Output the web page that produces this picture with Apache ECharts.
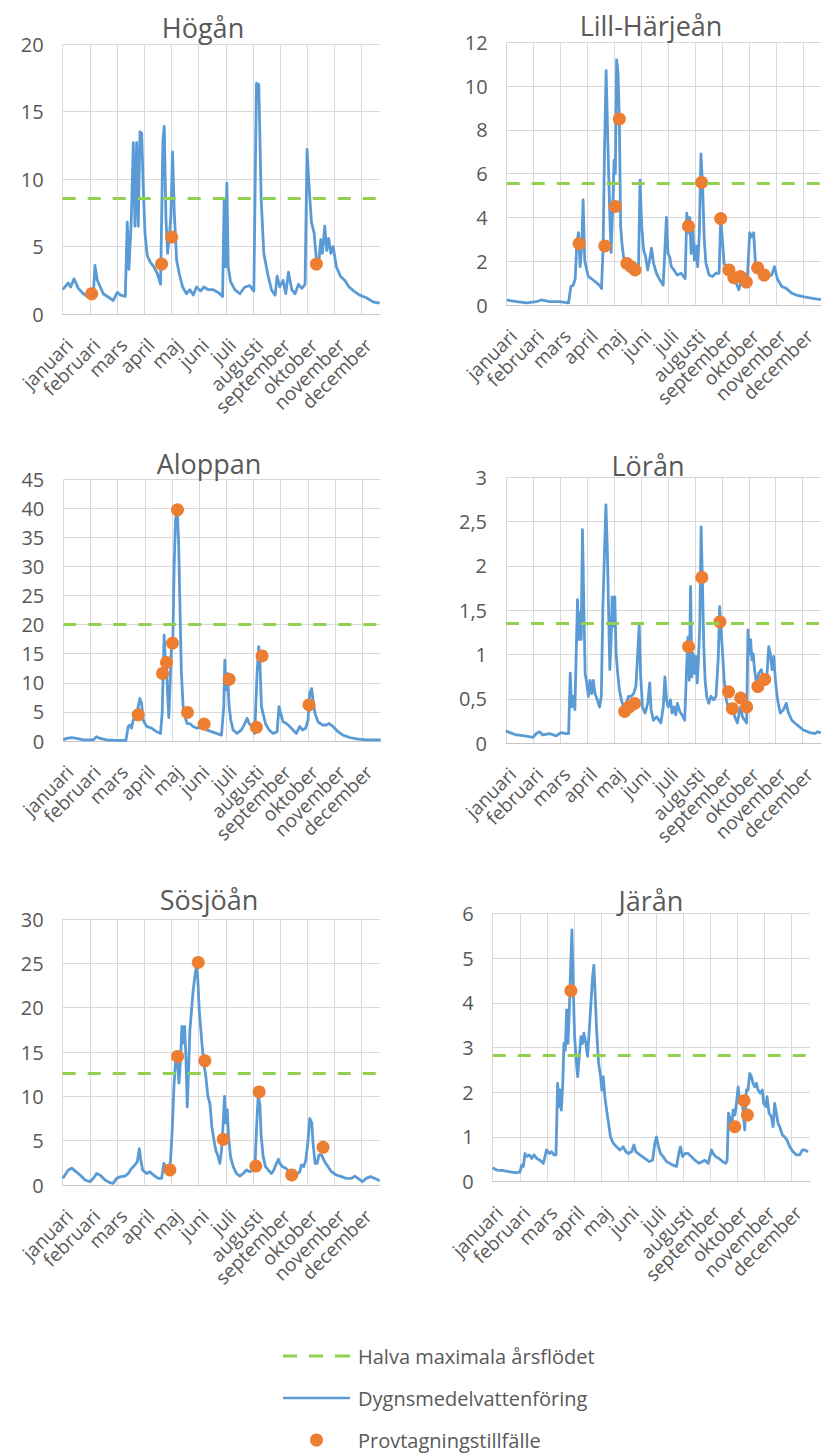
<!DOCTYPE html>
<html><head><meta charset="utf-8">
<script src="https://cdn.jsdelivr.net/npm/echarts@6.0.0/dist/echarts.min.js"></script>
<style>html,body{margin:0;padding:0;background:#fff}#c{width:821px;height:1455px}</style>
</head><body><div id="c"></div>
<script>
// ---------- DATA ----------
const months = ['januari','februari','mars','april','maj','juni','juli','augusti','september','oktober','november','december'];
const legendLabels = ['Halva maximala årsflödet','Dygnsmedelvattenföring','Provtagningstillfälle'];
const riverNames = ['Högån','Lill-Härjeån','Aloppan','Lörån','Sösjöån','Järån'];
const yMaxes = [20, 12, 45, 3, 30, 6];
const ySteps = [5, 2, 5, 0.5, 5, 1];
const halfMax = [8.55, 5.56, 20.0, 1.35, 12.6, 2.82];

// daily mean flow: [day of year, m3/s]
const hoganFlow = [[0,1.8],[6.3,2.3],[8.9,2.0],[12.7,2.6],[17.5,1.9],[23.1,1.5],[29.8,1.2],[34.3,1.5],[36.1,3.6],[38.7,2.5],[45.4,1.5],[56.6,1.0],[61.1,1.6],[64.8,1.4],[70,1.3],[72.2,6.8],[74.1,3.3],[76.7,7.0],[79,12.7],[80.8,6.5],[82.7,12.7],[84.5,6.5],[86.4,13.5],[88.3,13.4],[90.1,9.4],[92,6.0],[94.6,4.3],[98.3,3.8],[102,3.5],[105.8,3.0],[109.5,2.2],[111,8.5],[112.1,12.9],[113.6,13.9],[115.4,7.2],[117.3,4.5],[119.2,5.7],[121,7.2],[122.9,12.0],[124.8,7.5],[127.4,4.0],[130.3,3.0],[134.1,2.0],[138.5,1.5],[142.3,1.8],[146,1.4],[149.7,2.0],[154.2,1.7],[157.9,2.0],[162.7,1.8],[168.3,1.8],[173.9,1.6],[178.8,1.3],[180.6,8.5],[182.1,3.5],[183.6,9.7],[185.1,3.5],[187.7,2.4],[192.5,1.8],[198.1,1.5],[203.7,2.0],[209.3,2.1],[213.8,1.7],[216.7,17.1],[219.3,17.0],[222,8.5],[224.9,4.5],[229.8,2.8],[233.5,1.8],[237.6,1.4],[239.8,2.8],[242.8,2.0],[246.5,2.5],[249.5,1.5],[252.5,3.1],[256.2,1.8],[259.9,1.5],[263.7,2.2],[267.4,1.9],[271.1,2.2],[273.3,12.2],[275.6,9.4],[278.2,6.8],[281.2,6.0],[283.8,4.0],[286.7,4.0],[288.6,5.5],[290.5,4.5],[293.1,6.5],[295.3,4.7],[297.5,5.6],[299.8,4.5],[302.4,5.0],[306.1,3.5],[310.6,2.8],[315.4,2.5],[320.3,2.0],[325.5,1.7],[332.2,1.4],[339.6,1.2],[347.1,0.9],[354.5,0.8]];
const lillharjeanFlow = [[0,0.23],[3.7,0.2],[11.2,0.15],[22.3,0.1],[33.5,0.15],[39,0.23],[48.3,0.15],[59.5,0.15],[69.9,0.1],[72.5,0.85],[75.1,0.9],[77.4,1.2],[79.2,2.8],[81.1,3.3],[82.9,1.75],[84.8,2.7],[86.3,4.8],[88.1,2.05],[90.4,1.6],[92.2,1.3],[95.9,1.2],[100.4,1.05],[104.9,0.9],[107.1,0.75],[108.9,2.7],[110.5,7.1],[112.3,10.7],[114.2,7.5],[116.4,4.2],[117.9,2.4],[119.8,4.5],[121.2,6.6],[122.7,6.0],[124.2,11.2],[125.7,10.6],[127.2,8.5],[128.7,3.6],[130.2,2.8],[132,2.2],[133.9,1.9],[135.7,1.75],[137.6,1.9],[141.3,1.7],[145,1.6],[148.8,1.5],[150.6,5.7],[152.5,3.6],[154.7,2.5],[156.9,2.2],[159.2,1.6],[161.4,2.05],[163.6,2.6],[165.9,1.9],[169.2,1.45],[172.9,1.15],[176.7,0.9],[178.5,2.35],[180.4,4.0],[182.2,2.35],[184.1,2.2],[185.9,1.75],[188.9,1.6],[192.6,1.37],[197.1,1.45],[201.6,1.2],[203.4,4.2],[205.3,3.3],[206.8,4.0],[208.3,2.35],[210.1,3.7],[212,2.05],[213.8,2.7],[215.7,1.75],[217.6,3.3],[219.4,6.9],[221.3,5.4],[223.1,3.0],[225,1.9],[228.7,1.37],[232.4,1.3],[236.2,1.45],[239.9,1.45],[241.7,3.9],[243.6,3.0],[245.5,1.9],[248.4,1.7],[251,1.45],[254.8,1.2],[258.5,1.05],[262.2,0.7],[264.8,1.15],[267.8,1.0],[271.5,1.0],[274.5,3.3],[277.1,3.1],[278.9,3.3],[281.2,1.75],[284.5,1.5],[288.2,1.3],[291.9,1.2],[295.7,1.3],[299.4,1.37],[302.4,1.75],[305.7,1.2],[310.5,0.85],[316.1,0.75],[321.7,0.55],[327.3,0.45],[334.7,0.38],[342.1,0.33],[350.7,0.27],[355,0.26]];
const aloppanFlow = [[0,0.2],[3.7,0.45],[9.3,0.57],[14.9,0.45],[22.3,0.2],[33.5,0.2],[37.2,0.75],[41,0.45],[48.4,0.2],[59.6,0.1],[70,0.1],[72.6,2.5],[74.5,2.75],[76.3,2.2],[78.2,3.6],[81.2,3.9],[83.8,5.9],[85.7,7.3],[87.5,6.5],[89.4,3.6],[93.1,2.5],[98.7,2.2],[104.3,1.6],[108.7,1.3],[110.6,4.75],[111.7,11.6],[112.8,18.2],[114,14.0],[115.4,13.3],[116.6,8.2],[118,4.0],[119.5,10.0],[121,16.5],[122.5,17.0],[124,30.0],[125.5,38.0],[127.5,39.6],[129,34.0],[130.5,23.0],[132,12.0],[134,6.0],[136,4.2],[138.5,3.0],[141.5,3.0],[145.2,2.5],[149.7,2.2],[154.5,2.5],[160.1,1.9],[165.7,1.6],[171.3,1.3],[176.9,1.0],[179.5,5.9],[180.6,13.9],[182.1,8.8],[183.6,11.6],[185.5,5.9],[187.3,3.6],[189.9,1.9],[194.4,1.3],[199.2,1.9],[203,3.0],[205.6,3.9],[207.8,3.0],[210.8,2.5],[214.1,1.3],[216.7,11.6],[218.6,16.2],[219.7,14.5],[221.6,5.9],[223.4,4.75],[226.1,3.0],[230.1,1.9],[234.6,1.3],[239.1,1.6],[241.3,5.9],[243.2,4.75],[245.8,3.3],[249.5,3.0],[253.2,2.5],[256.9,1.9],[260.7,1.3],[264.4,2.5],[267.4,1.9],[271.1,2.2],[273.7,3.6],[275.6,8.2],[277.8,9.0],[279.3,7.0],[281.5,4.75],[284.9,3.3],[289.7,2.75],[294.2,2.75],[297.2,3.0],[301.6,2.5],[307.2,1.6],[312.8,1.0],[320.3,0.6],[327.7,0.35],[338.9,0.2],[355,0.2]];
const loranFlow = [[0,0.14],[4.5,0.12],[11.9,0.094],[21.2,0.083],[30.5,0.068],[34.2,0.11],[37.9,0.13],[41.6,0.094],[49,0.11],[56.5,0.083],[62,0.12],[67.6,0.11],[70.6,0.11],[72.4,0.79],[73.9,0.41],[75.8,0.53],[77.6,0.38],[79.5,1.17],[80.6,1.62],[81.7,1.17],[83.2,1.47],[84.7,1.17],[86.2,2.41],[87.7,1.54],[89.2,0.79],[91,0.68],[92.9,0.53],[94.7,0.71],[96.6,0.56],[98.4,0.71],[100.3,0.56],[102.9,0.49],[105.5,0.41],[107.4,0.53],[109.2,1.54],[111.1,2.18],[112.6,2.69],[114.1,2.22],[115.5,1.54],[117,0.83],[118.5,1.17],[119.6,1.65],[121.1,1.32],[122.6,1.65],[124.1,1.01],[125.9,0.79],[127.8,0.6],[130,0.49],[132.6,0.41],[135.2,0.45],[138.2,0.53],[141.2,0.53],[143.8,0.56],[146.4,0.64],[148.6,1.05],[150.1,1.33],[151.6,0.79],[153.8,0.41],[156.8,0.34],[159.7,0.45],[162,0.68],[163.5,0.38],[166.1,0.26],[169.8,0.3],[174.6,0.23],[177.2,0.41],[179.1,0.75],[180.9,0.49],[182.8,0.41],[185.4,0.49],[187.2,0.34],[189.5,0.41],[191.3,0.32],[193.2,0.45],[195.8,0.36],[198.4,0.32],[201.4,0.26],[203.6,0.86],[205.1,1.2],[206.6,0.71],[208,1.77],[209.5,0.75],[211,1.01],[212.5,0.79],[214,0.98],[215.5,0.68],[217,0.98],[218.4,1.32],[219.9,2.44],[221.4,1.8],[222.9,1.09],[224.4,0.71],[226.2,0.53],[228.5,0.45],[231.1,0.53],[234,0.49],[236.7,0.53],[239.3,0.98],[240.8,1.54],[242.2,1.32],[244.1,1.01],[245.9,0.71],[248.2,0.49],[250.4,0.41],[252.6,0.38],[255.2,0.41],[257.8,0.3],[260.8,0.23],[262.7,0.34],[264.5,0.41],[266.4,0.3],[269,0.26],[271.2,0.23],[272.7,1.28],[274.2,1.01],[275.7,1.17],[277.1,0.94],[278.6,1.01],[280.1,0.83],[282.3,0.68],[284.9,0.79],[287.6,0.83],[289.8,0.75],[292.4,0.68],[294.2,0.79],[296.1,1.09],[297.9,1.01],[299.8,0.83],[301.7,0.98],[303.9,0.68],[306.1,0.49],[309.1,0.34],[312.8,0.38],[315.8,0.45],[318.4,0.34],[322.1,0.26],[327.7,0.21],[335.1,0.15],[342.5,0.12],[348.1,0.11],[351.1,0.13],[355,0.12]];
const sosjoanFlow = [[0,0.75],[2.6,1.13],[6.3,1.7],[10.1,1.9],[13.8,1.6],[19.4,1.13],[25,0.56],[30.5,0.38],[34.3,0.75],[38,1.3],[41.7,1.13],[47.3,0.56],[52.9,0.26],[56.6,0.19],[60.3,0.75],[64.8,0.94],[69.6,1.0],[73.4,1.3],[77.1,1.9],[80.8,2.26],[83.4,2.6],[85.7,4.1],[87.1,3.0],[89.4,1.7],[93.8,1.3],[97.6,1.5],[101.3,1.13],[106.9,0.75],[110.6,0.75],[113.2,2.44],[116.2,1.9],[119.2,1.7],[120.6,2.8],[122.5,6.2],[124.4,11.1],[126.2,13.9],[128.1,14.5],[130,11.5],[131.8,14.1],[133.3,17.9],[134.8,16.0],[136.3,17.9],[137.8,14.5],[139.3,8.8],[140.8,13.0],[142.3,17.5],[144.1,19.7],[146,22.0],[147.8,23.5],[149.7,24.8],[151.2,23.1],[152.7,19.7],[154.2,17.9],[155.7,16.0],[157.9,13.7],[160.1,12.2],[162.4,10.0],[164.6,9.2],[166.8,6.6],[169.1,5.1],[171.3,3.9],[173.9,3.2],[175.8,2.44],[177.6,3.9],[179.5,7.0],[181,10.0],[182.5,7.0],[184,8.5],[185.5,5.5],[187.7,3.2],[190.7,2.07],[194.4,1.3],[198.1,1.0],[201.8,1.3],[205.6,1.7],[209.3,1.5],[213,1.7],[215.2,2.44],[216.7,6.2],[218.6,10.0],[220.5,9.2],[222,5.5],[224.2,3.2],[226.8,2.07],[229.8,1.7],[233.5,1.3],[236.1,1.7],[239.1,2.44],[241.3,2.9],[242.8,2.44],[245.8,2.07],[249.5,1.9],[253.2,1.5],[257.7,1.24],[261.4,1.13],[265.1,1.5],[267,2.26],[269.6,2.07],[271.9,2.8],[274.5,5.1],[276.3,7.5],[278.6,7.0],[280,4.7],[282.3,2.44],[284.5,2.44],[286.7,3.4],[289.4,3.4],[293.1,2.6],[296.8,2.07],[300.5,1.5],[306.1,1.13],[311.7,0.94],[317.3,0.75],[322.9,0.75],[326.6,1.0],[330.3,0.75],[335.2,0.38],[339.6,0.75],[344.1,0.94],[348.9,0.75],[354.5,0.49]];
const jaranFlow = [[0,0.31],[4.5,0.26],[11.9,0.25],[19.4,0.22],[26.8,0.2],[30.5,0.22],[32.4,0.37],[34.3,0.34],[36.1,0.63],[38,0.56],[41,0.6],[43.6,0.52],[46.2,0.6],[49.2,0.52],[52.9,0.48],[56.6,0.41],[60.3,0.71],[63.3,0.63],[65.9,0.67],[68.5,0.6],[70.8,0.6],[72.6,2.2],[74.1,1.68],[75.2,2.05],[76.7,1.6],[78.2,2.12],[79.7,3.09],[81.2,2.94],[82.7,3.84],[84.2,3.09],[85.7,3.84],[87.1,4.73],[88.6,5.63],[90.1,4.36],[91.6,3.24],[93.1,2.8],[95,2.35],[96.8,2.8],[98.7,3.24],[100.5,3.09],[102,3.32],[104.3,3.09],[106.1,2.8],[108,3.39],[109.9,3.99],[111.7,4.58],[113.2,4.84],[114.7,4.14],[116.2,3.39],[118.4,2.65],[120.7,2.35],[122.1,2.05],[123.6,2.35],[125.5,1.9],[127.4,1.6],[129.6,1.3],[131.8,1.0],[134.8,0.86],[138.5,0.78],[142.3,0.71],[146,0.78],[149,0.67],[151.6,0.63],[155.3,0.67],[157.9,0.82],[160.1,0.67],[164.6,0.6],[170.2,0.52],[175,0.45],[178.8,0.48],[181.4,0.86],[183.2,1.0],[185.5,0.78],[187.7,0.63],[190.7,0.56],[194.4,0.45],[198.1,0.41],[201.8,0.37],[205.6,0.34],[208.5,0.67],[210,0.78],[212.3,0.56],[215.2,0.63],[218.6,0.63],[222.3,0.56],[226.1,0.48],[230.9,0.41],[234.6,0.45],[237.2,0.48],[241,0.41],[244.7,0.71],[246.5,0.63],[249.5,0.56],[253.2,0.52],[257,0.45],[260.7,0.41],[262.2,0.48],[263.7,1.53],[265.9,1.38],[267.4,1.23],[268.9,1.6],[270.8,1.49],[272.6,1.75],[274.5,2.12],[276.3,1.75],[278.2,1.9],[280,1.6],[281.9,1.16],[283.8,2.05],[285.6,2.05],[287.5,2.42],[289.4,2.35],[291.2,2.2],[293.1,2.12],[295,2.2],[296.8,2.05],[299.4,1.98],[301.6,2.05],[303.1,1.75],[305.4,1.68],[306.9,1.9],[309.1,1.53],[311.7,1.45],[313.6,1.23],[315.4,1.75],[317.3,1.53],[319.2,1.3],[321,1.23],[324,1.04],[326.6,1.0],[329.2,0.93],[332.2,0.78],[335.9,0.67],[339.6,0.6],[343.4,0.6],[346.4,0.71],[349,0.71],[352.7,0.67]];

// sampling occasions: [day of year, m3/s]
const hoganSamples = [[32.4,1.5],[110.6,3.7],[121.8,5.7],[283.8,3.7]];
const lillharjeanSamples = [[81.8,2.8],[110.8,2.7],[122.7,4.5],[127.2,8.5],[135.7,1.9],[140.6,1.75],[145,1.6],[205.3,3.6],[220.2,5.6],[241.7,3.95],[251,1.6],[256.6,1.25],[264,1.3],[270.7,1.05],[283.4,1.7],[290.8,1.37]];
const aloppanSamples = [[83.8,4.5],[111,11.6],[115.4,13.5],[122.1,16.8],[127.7,39.7],[138.9,4.9],[157.5,2.9],[185.5,10.6],[216,2.35],[222.3,14.6],[274.8,6.2]];
const loranSamples = [[133.7,0.36],[138.9,0.41],[144.9,0.45],[205.8,1.09],[220.7,1.87],[241.1,1.37],[250.8,0.58],[255.2,0.39],[264.5,0.51],[271.2,0.41],[283.8,0.64],[291.6,0.72]];
const sosjoanSamples = [[119.9,1.7],[128.5,14.5],[151.6,25.1],[159,14.0],[179.5,5.15],[216,2.14],[219.7,10.5],[256.2,1.13],[291.2,4.25]];
const jaranSamples = [[87.5,4.27],[270.8,1.23],[281.2,1.81],[284.9,1.49]];

const flows = [hoganFlow, lillharjeanFlow, aloppanFlow, loranFlow, sosjoanFlow, jaranFlow];
const samples = [hoganSamples, lillharjeanSamples, aloppanSamples, loranSamples, sosjoanSamples, jaranSamples];

// ---------- LAYOUT / STYLE ----------
const MONTH = 30.4;       // axis tick step (days)
const XMAX = 355;         // axis extent (days)
const FONT = '"Open Sans", sans-serif';
const GRAY = '#595959';
const layout = [
  {grid:{left:62.7, top:44,    width:317.4, height:270},   title:[203, 27]},
  {grid:{left:506.7,top:42.3,  width:317.4, height:262.7}, title:[651, 25]},
  {grid:{left:63.3, top:479,   width:317.4, height:262},   title:[209, 463]},
  {grid:{left:506,  top:477.3, width:318.2, height:266},   title:[648, 465.5]},
  {grid:{left:62.7, top:919,   width:317.4, height:266},   title:[209, 899.5]},
  {grid:{left:492.7,top:913.3, width:317.4, height:268.4}, title:[651, 900.5]}
];
// legend icons (line glyphs)
const dashIcon = 'path://M0,0h14v3h-14zM26,0h14v3h-14zM52,0h15v3h-15z';
const solidIcon = 'path://M0,0h67v2.6h-67z';

const chart = echarts.init(document.getElementById('c'), null, {renderer:'svg', width:821, height:1455});

const option = {
  animation:false,
  backgroundColor:'#ffffff',
  textStyle:{fontFamily:FONT},
  title: riverNames.map((n,i)=>({
    text:n, left:layout[i].title[0], top:layout[i].title[1], padding:0,
    textAlign:'center', textVerticalAlign:'middle',
    textStyle:{fontSize:27, fontWeight:'normal', color:GRAY, fontFamily:FONT}
  })),
  legend:{
    orient:'vertical', left:283, top:1346, padding:0,
    itemWidth:67, itemHeight:13, itemGap:22, selectedMode:false,
    textStyle:{fontSize:20, color:GRAY, fontFamily:FONT, padding:[0,0,0,3]},
    data:[
      {name:legendLabels[0], icon:dashIcon},
      {name:legendLabels[1], icon:solidIcon},
      {name:legendLabels[2], icon:'circle'}
    ]
  },
  grid: layout.map(l=>Object.assign({containLabel:false}, l.grid)),
  xAxis: riverNames.map((n,i)=>({
    gridIndex:i, type:'value', min:0, max:XMAX, interval:MONTH,
    axisLine:{show:true, lineStyle:{color:'#c6c6c6', width:1}},
    axisTick:{show:false},
    splitLine:{show:true, showMaxLine:false, lineStyle:{color:'#d9d9d9', width:1}},
    axisLabel:{
      rotate:45, align:'right', verticalAlign:'top', margin:21,
      fontSize:19, color:GRAY, fontFamily:FONT, showMaxLabel:false,
      formatter:(v)=>{ const k=Math.round(v/MONTH); return (Math.abs(v-k*MONTH)<0.05 && k<12) ? months[k] : ''; }
    }
  })),
  yAxis: riverNames.map((n,i)=>({
    gridIndex:i, type:'value', min:0, max:yMaxes[i], interval:ySteps[i],
    axisLine:{show:false}, axisTick:{show:false},
    splitLine:{show:true, lineStyle:{color:'#d9d9d9', width:1}},
    axisLabel:{fontSize:20, color:GRAY, fontFamily:FONT, margin:19,
      formatter:(v)=>String(v).replace('.', ',')}
  })),
  series: riverNames.flatMap((n,i)=>[
    {
      name:legendLabels[0], type:'line', xAxisIndex:i, yAxisIndex:i, data:[], silent:true,
      symbol:'none', lineStyle:{color:'#92D050', width:3, type:[13,12]}, itemStyle:{color:'#92D050'}, z:1,
      markLine:{silent:true, symbol:['none','none'], label:{show:false}, animation:false,
        lineStyle:{color:'#92D050', width:3, type:[13,12]},
        emphasis:{disabled:true},
        data:[{yAxis:halfMax[i]}]}
    },
    {
      name:legendLabels[1], type:'line', xAxisIndex:i, yAxisIndex:i, data:flows[i], silent:true,
      symbol:'none', lineStyle:{color:'#5B9BD5', width:2.8, join:'round'}, itemStyle:{color:'#5B9BD5'}, z:2
    },
    {
      name:legendLabels[2], type:'scatter', xAxisIndex:i, yAxisIndex:i, data:samples[i], silent:true,
      symbol:'circle', symbolSize:13, itemStyle:{color:'#ED7D31', opacity:1}, z:3
    }
  ])
};
chart.setOption(option);
</script>
</body></html>
